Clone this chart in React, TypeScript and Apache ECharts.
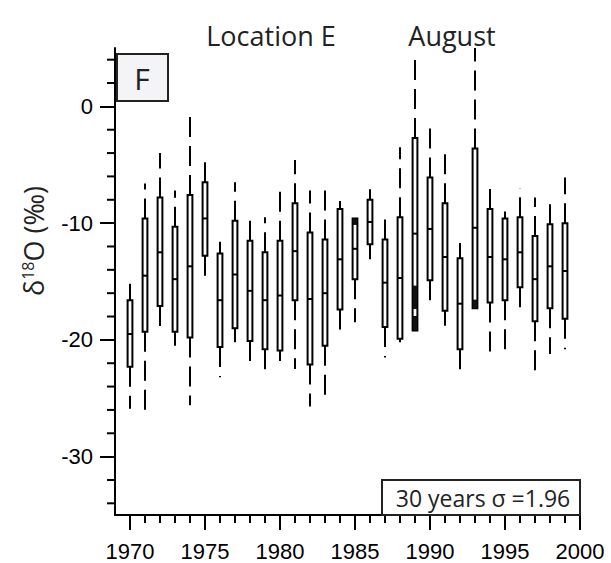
import React, { useEffect, useRef } from "react";
import * as echarts from "echarts";

const years = [1970, 1971, 1972, 1973, 1974, 1975, 1976, 1977, 1978, 1979, 1980, 1981, 1982, 1983, 1984, 1985, 1986, 1987, 1988, 1989, 1990, 1991, 1992, 1993, 1994, 1995, 1996, 1997, 1998, 1999];
const whiskerHigh = [-15.2, -6.6, -4.0, -7.2, -0.8, -4.3, -11.6, -6.5, -9.8, -9.5, -6.8, -4.6, -7.2, -6.9, -8.1, -9.6, -7.1, -9.5, -3.5, 4.4, -1.3, -3.6, -11.7, 5.0, -6.9, -9.0, -7.0, -7.8, -8.3, -6.1];
const q3 = [-16.6, -9.6, -7.8, -10.3, -7.6, -6.5, -12.6, -9.8, -11.5, -12.5, -11.5, -8.3, -10.8, -11.4, -8.8, -9.6, -8.0, -11.4, -9.5, -2.7, -6.1, -8.3, -13.0, -3.6, -8.8, -9.6, -9.5, -11.1, -10.1, -10.0];
const median = [-19.5, -14.5, -12.5, -14.8, -13.7, -9.6, -16.6, -14.4, -15.8, -16.6, -16.2, -12.4, -16.5, -16.0, -13.1, -12.2, -9.9, -15.1, -14.7, -10.9, -10.5, -12.9, -16.9, -10.4, -12.9, -13.1, -12.5, -14.8, -13.7, -14.1];
const q1 = [-22.3, -19.3, -17.1, -19.3, -19.8, -12.8, -20.6, -19.0, -20.1, -20.8, -20.9, -16.6, -22.1, -20.5, -17.4, -14.8, -11.8, -18.9, -19.9, -19.2, -14.9, -17.5, -20.8, -17.3, -16.8, -16.6, -15.5, -18.4, -17.3, -18.2];
const whiskerLow = [-25.9, -26.2, -19.2, -20.5, -25.6, -15.2, -23.2, -20.2, -22.5, -23.2, -21.8, -22.5, -25.7, -24.8, -19.5, -18.5, -13.1, -21.5, -20.2, -19.2, -17.1, -18.8, -22.7, -17.3, -21.0, -20.8, -17.6, -22.6, -21.2, -20.8];

// dark filled segments inside some boxes
const fillYear = [1985, 1989, 1989, 1993];
const fillTop = [-9.6, -15.4, -18.0, -16.6];
const fillBottom = [-10.1, -17.3, -19.2, -17.3];

const yMin = -35;
const yMax = 5;
const xMin = 1969;
const xMax = 2000;
const majorYTicks = [-30, -20, -10, 0];
const minorYTicks = [-34, -32, -28, -26, -24, -22, -18, -16, -14, -12, -8, -6, -4, -2, 2, 4];
const majorXTicks = [1970, 1975, 1980, 1985, 1990, 1995, 2000];
const minorXTicks = [1971, 1972, 1973, 1974, 1976, 1977, 1978, 1979, 1981, 1982, 1983, 1984, 1986, 1987, 1988, 1989, 1991, 1992, 1993, 1994, 1996, 1997, 1998, 1999];

const tickFont = "'Liberation Sans', Arial, sans-serif";
const textFont = "'Open Sans', 'Noto Sans', sans-serif";

export default function App() {
  const ref = useRef<HTMLDivElement>(null);
  useEffect(() => {
    if (!ref.current) return;
    const chart = echarts.init(ref.current, null, { renderer: "svg" });
    const boxData = years.map((y, i) => [y, whiskerLow[i], q1[i], median[i], q3[i], whiskerHigh[i]]);
    const fillData = fillYear.map((y, i) => [y, fillTop[i], fillBottom[i]]);
    const halfW = 2.4;
    const dash = [20, 9];
    const lineStyle = { color: "#000", width: 2 };
    const mkAxis = (min: number, max: number, pos: string, ticks: number[], margin: number) => ({
      type: "value" as const,
      min,
      max,
      position: pos,
      splitLine: { show: false },
      axisLine: { show: true, onZero: false, lineStyle },
      axisTick: { show: true, customValues: ticks, length: 15, lineStyle },
      axisLabel: {
        show: true,
        customValues: ticks,
        margin,
        fontSize: 22,
        color: "#000",
        fontFamily: tickFont,
        formatter: (v: number) => String(v),
      },
    });
    const staticGraphics: any[] = [
      {
        type: "text",
        x: 271,
        y: 35,
        style: { text: "Location E", font: `27px ${textFont}`, fill: "#222", textAlign: "center", textVerticalAlign: "middle" },
      },
      {
        type: "text",
        x: 452,
        y: 35,
        style: { text: "August", font: `27px ${textFont}`, fill: "#222", textAlign: "center", textVerticalAlign: "middle" },
      },
      {
        type: "rect",
        shape: { x: 117, y: 54, width: 51, height: 47 },
        style: { fill: "#f4f4f7", stroke: "#222", lineWidth: 2 },
        z: 10,
      },
      {
        type: "text",
        x: 142,
        y: 78,
        z: 11,
        style: { text: "F", font: `30px ${textFont}`, fill: "#222", textAlign: "center", textVerticalAlign: "middle" },
      },
      {
        type: "rect",
        shape: { x: 382, y: 480, width: 198, height: 35 },
        style: { fill: "#fff", stroke: "#222", lineWidth: 2 },
        z: 10,
      },
      {
        type: "text",
        x: 483,
        y: 498,
        z: 11,
        style: { text: "30 years σ =1.96", font: `23px ${textFont}`, fill: "#222", textAlign: "center", textVerticalAlign: "middle" },
      },
      {
        type: "text",
        x: 33,
        y: 241,
        rotation: Math.PI / 2,
        style: {
          text: "δ{sup|18}O (‰)",
          font: `27px ${textFont}`,
          fill: "#222",
          textAlign: "center",
          textVerticalAlign: "middle",
          rich: {
            sup: { fontSize: 16, fontFamily: textFont, verticalAlign: "top", padding: [0, 0, 10, 0], fill: "#222" },
          },
        },
      },
    ];
    const tickStyle = { stroke: "#000", lineWidth: 2, fill: null };
    chart.setOption({
      animation: false,
      grid: { left: 115, right: 31, top: 48, bottom: 48 },
      xAxis: mkAxis(xMin, xMax, "bottom", majorXTicks, 25),
      yAxis: mkAxis(yMin, yMax, "left", majorYTicks, 22),
      series: [
        {
          type: "custom",
          clip: false,
          data: boxData,
          renderItem: (params: any, api: any) => {
            const x = api.value(0);
            const pLo = api.coord([x, api.value(1)]);
            const pQ1 = api.coord([x, api.value(2)]);
            const pMed = api.coord([x, api.value(3)]);
            const pQ3 = api.coord([x, api.value(4)]);
            const pHi = api.coord([x, api.value(5)]);
            const px = pMed[0];
            const children: any[] = [
              {
                type: "line",
                shape: { x1: px, y1: pQ3[1], x2: px, y2: pHi[1] },
                style: { ...tickStyle, lineDash: dash },
              },
              {
                type: "line",
                shape: { x1: px, y1: pQ1[1], x2: px, y2: pLo[1] },
                style: { ...tickStyle, lineDash: dash },
              },
              {
                type: "rect",
                shape: { x: px - halfW, y: pQ3[1], width: halfW * 2, height: pQ1[1] - pQ3[1] },
                style: { stroke: "#000", lineWidth: 2, fill: "#fff" },
              },
              {
                type: "line",
                shape: { x1: px - halfW, y1: pMed[1], x2: px + halfW, y2: pMed[1] },
                style: tickStyle,
              },
            ];
            if (params.dataIndex === 0) {
              // minor ticks, placed with the axes' own scales
              const a = api.coord([years[0], -10]);
              const b = api.coord([years[1], -9]);
              const ppuX = (b[0] - a[0]) / (years[1] - years[0]);
              const ppuY = b[1] - a[1];
              const axisX = a[0] + (xMin - years[0]) * ppuX;
              const axisY = a[1] + (yMin + 10) * ppuY;
              minorYTicks.forEach((v) => {
                const py = api.coord([years[0], v])[1];
                children.push({
                  type: "line",
                  shape: { x1: axisX - 8, y1: py, x2: axisX, y2: py },
                  style: tickStyle,
                });
              });
              minorXTicks.forEach((v) => {
                const qx = api.coord([v, -10])[0];
                children.push({
                  type: "line",
                  shape: { x1: qx, y1: axisY, x2: qx, y2: axisY + 8 },
                  style: tickStyle,
                });
              });
            }
            return { type: "group", children };
          },
        },
        {
          type: "custom",
          data: fillData,
          renderItem: (params: any, api: any) => {
            const x = api.value(0);
            const pT = api.coord([x, api.value(1)]);
            const pB = api.coord([x, api.value(2)]);
            return {
              type: "rect",
              shape: { x: pT[0] - halfW, y: pT[1], width: halfW * 2, height: pB[1] - pT[1] },
              style: { fill: "#111", stroke: "#000", lineWidth: 1 },
            };
          },
        },
      ],
      graphic: staticGraphics,
    });
    return () => chart.dispose();
  }, []);
  return (
    <div
      ref={ref}
      style={{ position: "fixed", left: 0, top: 0, width: 611, height: 563, background: "#fff" }}
    />
  );
}
